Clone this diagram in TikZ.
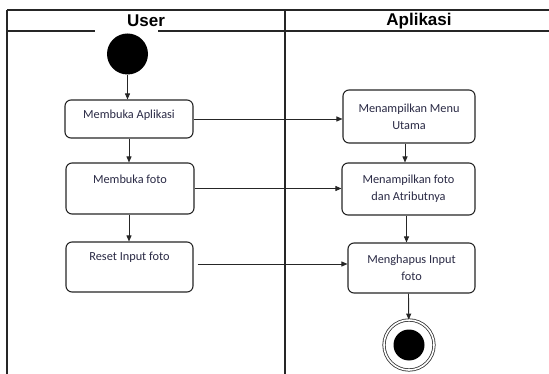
\documentclass[tikz,border=0pt]{standalone}
\usepackage{fontspec}
\usepackage{tikz}
\usetikzlibrary{arrows.meta,positioning}
\newfontfamily\bodyfont{Carlito}
\newfontfamily\headfont{Liberation Sans}
\definecolor{ADInk}{HTML}{2A2A45}
\definecolor{ADLine}{HTML}{262626}

\begin{document}
\begin{tikzpicture}[
    x=1pt,y=-1pt,
    act/.style={draw=ADLine,rounded corners=6pt,line width=1.1pt,fill=white,
      align=center,inner sep=0pt,text=ADInk,
      font=\bodyfont\fontsize{12.3}{17}\selectfont},
    lane/.style={line width=1.2pt,draw=ADLine},
    head/.style={font=\headfont\bfseries\fontsize{17}{17}\selectfont,inner sep=0pt},
    arrow/.style={-{Triangle[length=6pt,width=5pt]},line width=0.9pt,draw=ADLine}
  ]
    \useasboundingbox (0,0) rectangle (549,374);

    % swimlanes
    \draw[lane] (7,10) -- (549,10);
    \draw[lane] (7,31) -- (95,31);
    \draw[lane] (158,31) -- (549,31);
    \draw[lane] (7,10) -- (7,374);
    \draw[lane] (285,10) -- (285,374);
    \node[head] (user) at (146,21) {User};
    \node[head] (app) at (419,21) {Aplikasi};

    % activities
    \node[circle,fill=black,minimum size=41pt,inner sep=0pt] (start) at (127.5,54) {};
    \node[act,minimum width=128pt,minimum height=38pt,text height=9pt,text depth=9pt] (buka) at (129,119) {Membuka Aplikasi};
    \node[act,minimum width=128pt,minimum height=51pt,text height=9pt,text depth=19pt] (foto) at (130,188.5) {Membuka foto};
    \node[act,minimum width=127pt,minimum height=50pt,text height=9pt,text depth=22pt] (reset) at (129.5,267) {Reset Input foto};
    \node[act,minimum width=132pt,minimum height=53pt] (menu) at (409,116.5) {Menampilkan Menu\\Utama};
    \node[act,minimum width=133pt,minimum height=52pt] (tampil) at (408.5,189) {Menampilkan foto\\dan Atributnya};
    \node[act,minimum width=127pt,minimum height=50pt] (hapus) at (411.5,268) {Menghapus Input\\foto};
    \node[circle,draw=black!80,line width=0.8pt,double,double distance=1.6pt,
      minimum size=50pt,inner sep=0pt,
      path picture={\fill[black] (path picture bounding box.center) circle (15.5pt);}] (stop) at (409,345) {};

    \draw[arrow] (start) -- (start |- buka.north);
    \draw[arrow] (buka.south) -- (buka.south |- foto.north);
    \draw[arrow] (foto.south -| buka.south) -- (buka.south |- reset.north);
    \draw[arrow] (buka.east) -- (buka.east -| menu.west);
    \draw[arrow] (foto.east) -- (foto.east -| tampil.west);
    \draw[arrow,shorten <=4pt] ([yshift=3pt]reset.east) -- ([yshift=3pt]reset.east -| hapus.west);
    \draw[arrow] ([xshift=-4pt]menu.south) -- ([xshift=-4pt]menu.south |- tampil.north);
    \draw[arrow] ([xshift=-2pt]tampil.south) -- ([xshift=-2pt]tampil.south |- hapus.north);
    \draw[arrow] ([xshift=-3pt]hapus.south) -- (stop);
  \end{tikzpicture}
\end{document}
